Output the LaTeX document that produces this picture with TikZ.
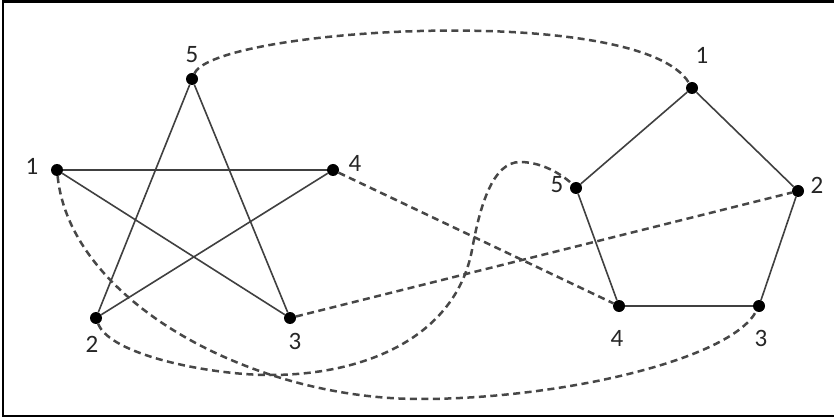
\documentclass[tikz,border=0pt]{standalone}
\usepackage{fontspec}
\setmainfont{Carlito}
\begin{document}
\begin{tikzpicture}[x=1pt,y=-1pt,
  dot/.style={circle,fill=black,inner sep=0pt,minimum size=12pt},
  lbl/.style={text=black!85,font=\fontsize{25}{28}\selectfont,inner sep=0pt},
  edgeline/.style={draw=black!75,line width=1.6pt},
  linkline/.style={draw=black!72,line width=2.5pt,dash pattern=on 7pt off 4.5pt},
  frameline/.style={draw=black,line width=2.5pt}]
\useasboundingbox (0,0) rectangle (834,419);
\fill[white] (0,0) rectangle (834,419);
% frame
\coordinate (f1) at (834,1.5);
\coordinate (f2) at (3,1.5);
\coordinate (f3) at (3,416);
\coordinate (f4) at (834,416);
\draw[frameline] (f1) -- (f2) -- (f3) -- (f4);

% star vertices
\node[dot] (s1) at (57,170) {};
\node[dot] (s2) at (96,318) {};
\node[dot] (s3) at (290,318) {};
\node[dot] (s4) at (333,170) {};
\node[dot] (s5) at (192,79) {};
% pentagon vertices
\node[dot] (p1) at (692,88) {};
\node[dot] (p2) at (798,191) {};
\node[dot] (p3) at (759,306) {};
\node[dot] (p4) at (619,306) {};
\node[dot] (p5) at (576,188) {};

% labels
\node[lbl] (ls1) at (32,166) {1};
\node[lbl] (ls2) at (92,344) {2};
\node[lbl] (ls3) at (295,341) {3};
\node[lbl] (ls4) at (355,163) {4};
\node[lbl] (ls5) at (192,55) {5};
\node[lbl] (lp1) at (702,55) {1};
\node[lbl] (lp2) at (817,185) {2};
\node[lbl] (lp3) at (761,338) {3};
\node[lbl] (lp4) at (617,338) {4};
\node[lbl] (lp5) at (557,185) {5};

% star edges
\draw[edgeline] (s1) -- (s4);
\draw[edgeline] (s1) -- (s3);
\draw[edgeline] (s5) -- (s2);
\draw[edgeline] (s5) -- (s3);
\draw[edgeline] (s4) -- (s2);
% pentagon edges
\draw[edgeline] (p1) -- (p5);
\draw[edgeline] (p1) -- (p2);
\draw[edgeline] (p2) -- (p3);
\draw[edgeline] (p3) -- (p4);
\draw[edgeline] (p4) -- (p5);

% dashed correspondences
\draw[linkline] (s5) .. controls (215,28) and (640,2) .. (p1);
\draw[linkline] (s4) -- (p4);
\draw[linkline] (s3) -- (p2);
\coordinate (m1) at (420,399);
\draw[linkline] (s1) .. controls (70,300) and (250,399) .. (m1)
   .. controls (560,399) and (730,360) .. (p3);
\coordinate (n1) at (270,375);
\coordinate (n2) at (472,250);
\coordinate (n3) at (520,162);
\draw[linkline] (s2) .. controls (110,355) and (210,375) .. (n1)
   .. controls (370,375) and (456,334) .. (n2)
   .. controls (480,205) and (493,162) .. (n3)
   .. controls (545,162) and (566,178) .. (p5);
\end{tikzpicture}
\end{document}
